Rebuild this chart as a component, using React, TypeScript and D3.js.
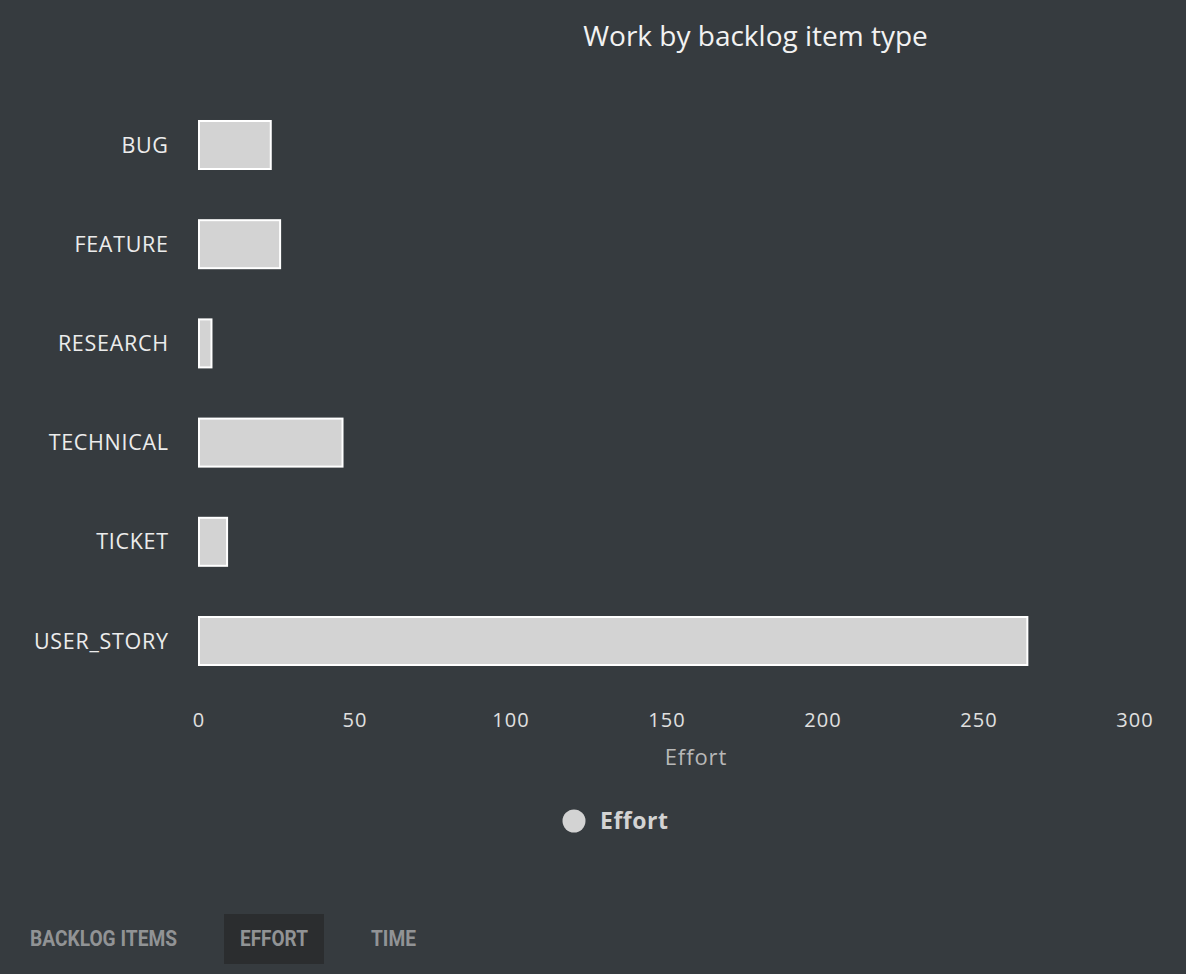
import React, { useEffect } from "react";
import * as d3 from "d3";

const categories = ["BUG", "FEATURE", "RESEARCH", "TECHNICAL", "TICKET", "USER_STORY"];
const effortValues = [23, 26, 4, 46, 9, 265.5];
const xTicks = [0, 50, 100, 150, 200, 250, 300];
const tabs = ["BACKLOG ITEMS", "EFFORT", "TIME"];
const seriesName = "Effort";
const chartTitle = "Work by backlog item type";

const W = 1186;
const H = 974;
const BG = "#363b3f";
const BAR = "#d3d3d3";
const FONT = "'Open Sans', 'Noto Sans', sans-serif";

export default function App() {
  useEffect(() => {
    document.body.style.margin = "0";
    document.body.style.background = BG;
  }, []);

  const x = d3.scaleLinear().domain([0, 300]).range([199, 1135]);
  const y = d3
    .scaleBand<string>()
    .domain(categories)
    .range([95.4, 690.6])
    .paddingInner(0.516)
    .paddingOuter(0.258);

  const tabLayout = [
    { x: 30, len: 147 },
    { x: 240, len: 68 },
    { x: 371, len: 45 },
  ];

  return (
    <svg width={W} height={H} style={{ display: "block", background: BG }}>
      <rect x={0} y={0} width={W} height={H} fill={BG} />
      <text x={755.5} y={46} textAnchor="middle" fill="#f2f2f2" fontFamily={FONT} fontSize={28}>
        {chartTitle}
      </text>

      {categories.map((c, i) => (
        <g key={c}>
          <rect
            x={x(0)}
            y={y(c)!}
            width={x(effortValues[i]) - x(0)}
            height={y.bandwidth()}
            fill={BAR}
            stroke="#ffffff"
            strokeWidth={2}
          />
          <text
            x={168.7}
            y={y(c)! + y.bandwidth() / 2}
            dy="0.35em"
            textAnchor="end"
            fill="#ececec"
            fontFamily={FONT}
            fontSize={21.5}
            letterSpacing={0.7}
          >
            {c}
          </text>
        </g>
      ))}

      {xTicks.map((t) => (
        <text
          key={t}
          x={x(t)}
          y={727}
          textAnchor="middle"
          fill="#e0e0e0"
          fontFamily={FONT}
          fontSize={20}
          letterSpacing={1}
        >
          {t}
        </text>
      ))}
      <text x={696} y={765} textAnchor="middle" fill="#b8b8b8" fontFamily={FONT} fontSize={22} letterSpacing={0.9}>
        {seriesName}
      </text>

      <circle cx={574} cy={821} r={11.5} fill={BAR} />
      <text x={600} y={829} fill="#d3d3d3" fontFamily={FONT} fontSize={23} fontWeight="bold" letterSpacing={0.5}>
        {seriesName}
      </text>

      <rect x={224} y={914} width={100} height={50} fill="#2b2d2f" />
      {tabs.map((t, i) => (
        <text
          key={t}
          x={tabLayout[i].x}
          y={946}
          fill="#919395"
          fontFamily="Roboto, sans-serif"
          fontWeight="bold"
          fontSize={22}
          textLength={tabLayout[i].len}
          lengthAdjust="spacingAndGlyphs"
        >
          {t}
        </text>
      ))}
    </svg>
  );
}
